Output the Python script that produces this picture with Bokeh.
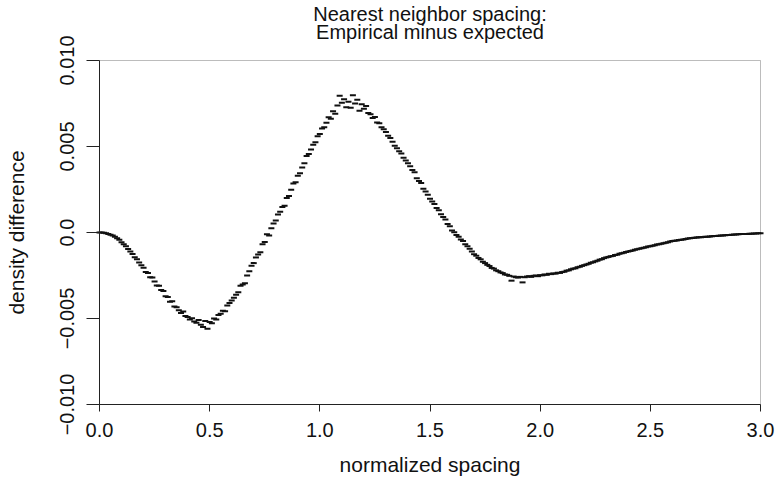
import math
from bokeh.plotting import figure
from bokeh.models import Range1d, FixedTicker, ColumnDataSource, Label, BoxAnnotation
from bokeh.embed import file_html
from bokeh.resources import INLINE

# ---- data ----
spacing_start = 0.0
spacing_step = 0.01
density_diff = [
    0e-4, 0e-4, -0.2e-4, -0.4e-4, -0.8e-4, -1.3e-4, -1.8e-4, -2.4e-4, -3.3e-4, -4.2e-4,
    -5.6e-4, -6.8e-4, -8.0e-4, -9.6e-4, -11.0e-4, -12.5e-4, -14.4e-4, -15.6e-4, -17.5e-4, -19.0e-4,
    -20.5e-4, -23.0e-4, -23.5e-4, -26.0e-4, -26.2e-4, -28.5e-4, -30.8e-4, -31.0e-4, -33.5e-4, -34.0e-4,
    -37.0e-4, -37.5e-4, -40.2e-4, -40.0e-4, -43.0e-4, -43.5e-4, -45.2e-4, -46.8e-4, -46.0e-4, -48.5e-4,
    -49.2e-4, -50.6e-4, -49.8e-4, -51.8e-4, -52.5e-4, -50.8e-4, -53.6e-4, -55.0e-4, -51.5e-4, -56.0e-4,
    -52.0e-4, -52.8e-4, -50.0e-4, -50.6e-4, -48.0e-4, -47.2e-4, -45.5e-4, -45.8e-4, -42.5e-4, -41.0e-4,
    -39.5e-4, -38.0e-4, -36.2e-4, -34.8e-4, -31.0e-4, -30.2e-4, -29.5e-4, -25.0e-4, -22.6e-4, -19.4e-4,
    -17.8e-4, -14.5e-4, -12.8e-4, -11.5e-4, -6.8e-4, -5.5e-4, -1.0e-4, -1.8e-4, 2.5e-4, 5.2e-4,
    7.0e-4, 10.5e-4, 12.0e-4, 14.8e-4, 15.5e-4, 20.0e-4, 21.2e-4, 24.8e-4, 28.5e-4, 29.2e-4,
    33.0e-4, 34.5e-4, 37.8e-4, 40.2e-4, 44.5e-4, 45.6e-4, 48.2e-4, 51.0e-4, 52.4e-4, 56.0e-4,
    57.2e-4, 60.5e-4, 61.2e-4, 63.8e-4, 67.0e-4, 66.2e-4, 70.5e-4, 69.0e-4, 73.8e-4, 79.5e-4,
    75.5e-4, 77.5e-4, 72.8e-4, 76.0e-4, 72.5e-4, 79.8e-4, 75.0e-4, 77.2e-4, 70.8e-4, 74.6e-4,
    72.0e-4, 73.5e-4, 69.5e-4, 68.8e-4, 66.5e-4, 67.2e-4, 64.0e-4, 63.5e-4, 61.2e-4, 60.0e-4,
    58.5e-4, 56.2e-4, 55.0e-4, 52.8e-4, 50.4e-4, 49.0e-4, 47.2e-4, 46.0e-4, 43.5e-4, 41.8e-4,
    40.2e-4, 38.5e-4, 36.4e-4, 35.0e-4, 31.6e-4, 30.0e-4, 28.8e-4, 25.5e-4, 23.9e-4, 22.0e-4,
    19.6e-4, 18.0e-4, 16.5e-4, 14.2e-4, 13.0e-4, 10.6e-4, 9.0e-4, 7.5e-4, 5.0e-4, 3.6e-4,
    1.2e-4, 0.2e-4, -1.5e-4, -2.4e-4, -4.0e-4, -5.0e-4, -6.8e-4, -8.0e-4, -9.4e-4, -11.0e-4,
    -12.6e-4, -13.5e-4, -14.8e-4, -15.6e-4, -17.0e-4, -17.8e-4, -18.8e-4, -19.5e-4, -20.6e-4, -21.0e-4,
    -22.0e-4, -22.5e-4, -23.2e-4, -23.6e-4, -24.4e-4, -24.6e-4, -25.2e-4, -28.0e-4, -25.6e-4, -26.0e-4,
    -26.2e-4, -25.8e-4, -29.0e-4, -26.0e-4, -25.6e-4, -25.4e-4, -25.8e-4, -25.2e-4, -25.0e-4, -25.4e-4,
    -24.8e-4, -24.9e-4, -24.4e-4, -24.6e-4, -24.0e-4, -24.2e-4, -23.8e-4, -23.9e-4, -23.4e-4, -23.5e-4,
    -23.0e-4, -22.8e-4, -22.2e-4, -22.0e-4, -21.4e-4, -21.0e-4, -20.8e-4, -20.2e-4, -19.9e-4, -19.4e-4,
    -19.0e-4, -18.6e-4, -18.2e-4, -17.6e-4, -17.3e-4, -16.8e-4, -16.4e-4, -15.8e-4, -15.5e-4, -14.9e-4,
    -14.5e-4, -14.2e-4, -13.8e-4, -13.6e-4, -13.1e-4, -12.9e-4, -12.4e-4, -12.0e-4, -11.8e-4, -11.3e-4,
    -11.0e-4, -10.8e-4, -10.4e-4, -10.1e-4, -9.8e-4, -9.5e-4, -9.1e-4, -8.8e-4, -8.6e-4, -8.2e-4,
    -8.0e-4, -7.7e-4, -7.4e-4, -7.0e-4, -6.8e-4, -6.5e-4, -6.2e-4, -5.9e-4, -5.6e-4, -5.3e-4,
    -5.0e-4, -4.8e-4, -4.6e-4, -4.3e-4, -4.2e-4, -4.0e-4, -3.8e-4, -3.5e-4, -3.4e-4, -3.2e-4,
    -3.0e-4, -2.9e-4, -2.8e-4, -2.7e-4, -2.6e-4, -2.5e-4, -2.4e-4, -2.3e-4, -2.2e-4, -2.1e-4,
    -2.0e-4, -1.9e-4, -1.8e-4, -1.7e-4, -1.6e-4, -1.5e-4, -1.4e-4, -1.3e-4, -1.2e-4, -1.1e-4,
    -1.0e-4, -0.9e-4, -0.9e-4, -0.8e-4, -0.8e-4, -0.7e-4, -0.7e-4, -0.6e-4, -0.6e-4, -0.5e-4,
    -0.5e-4,
]
normalized_spacing = [round(spacing_start + i * spacing_step, 2) for i in range(len(density_diff))]

x_ticks = [0.0, 0.5, 1.0, 1.5, 2.0, 2.5, 3.0]
x_tick_labels = ["0.0", "0.5", "1.0", "1.5", "2.0", "2.5", "3.0"]
y_ticks = [-0.010, -0.005, 0.0, 0.005, 0.010]
y_tick_labels = ["\u22120.010", "\u22120.005", "0.0", "0.005", "0.010"]

title_lines = ["Nearest neighbor spacing:", "Empirical minus expected"]
x_label = "normalized spacing"
y_label = "density difference"

X_MIN, X_MAX = 0.0, 3.0
Y_MIN, Y_MAX = -0.010, 0.010

# ---- layout: the drawing area spans the whole canvas, the box sits inside it ----
W, H = 775, 476
BOX_L, BOX_R, BOX_T, BOX_B = 99, 760, 60, 404   # box edges in canvas pixels
px_x = (BOX_R - BOX_L) / (X_MAX - X_MIN)
px_y = (BOX_B - BOX_T) / (Y_MAX - Y_MIN)
xr = Range1d(X_MIN - BOX_L / px_x, X_MAX + (W - BOX_R) / px_x)
yr = Range1d(Y_MIN - (H - BOX_B) / px_y, Y_MAX + BOX_T / px_y)

FONT = "Liberation Sans"
INK = "#222222"
TXT = "#111111"

p = figure(
    width=W, height=H, x_range=xr, y_range=yr,
    output_backend="svg", toolbar_location=None,
    min_border_left=0, min_border_right=0, min_border_top=0, min_border_bottom=0,
)
p.background_fill_color = "white"
p.border_fill_color = "white"
p.outline_line_color = None
p.xgrid.visible = False
p.ygrid.visible = False

p.add_layout(BoxAnnotation(left=X_MIN, right=X_MAX, bottom=Y_MIN, top=Y_MAX,
                           fill_alpha=0, line_color=INK, line_width=1, level="underlay"))

src = ColumnDataSource(dict(x=normalized_spacing, y=density_diff))
p.scatter("x", "y", source=src, marker="dash", size=6, line_width=2,
          line_color="#111111")

xa = p.xaxis[0]
xa.ticker = FixedTicker(ticks=x_ticks)
xa.fixed_location = Y_MIN
xa.bounds = (X_MIN, X_MAX)
ya = p.yaxis[0]
ya.ticker = FixedTicker(ticks=y_ticks)
ya.fixed_location = X_MIN
ya.bounds = (Y_MIN, Y_MAX)
for ax, ticks in ((xa, x_ticks), (ya, y_ticks)):
    ax.axis_line_color = INK
    ax.major_tick_line_color = INK
    ax.minor_tick_line_color = None
    ax.major_tick_in = 0
    ax.major_label_overrides = {t: "" for t in ticks}
    ax.major_label_text_font_size = "0px"
    ax.major_label_standoff = 0
xa.major_tick_out = 7
ya.major_tick_out = 13

# tick labels
for t, lab in zip(x_ticks, x_tick_labels):
    p.add_layout(Label(x=t, y=Y_MIN, y_offset=-18, text=lab, text_align="center",
                       text_baseline="top", text_font=FONT, text_font_size="20px",
                       text_color=TXT))
for t, lab in zip(y_ticks, y_tick_labels):
    p.add_layout(Label(x=X_MIN, y=t, x_offset=-26, text=lab, angle=math.pi / 2,
                       text_align="center", text_baseline="bottom", text_font=FONT,
                       text_font_size="20px", text_color=TXT))

# axis titles
p.add_layout(Label(x=(X_MIN + X_MAX) / 2, y=Y_MIN, y_offset=-60, text=x_label,
                   text_align="center", text_baseline="middle", text_font=FONT,
                   text_font_size="21px", text_color=TXT))
p.add_layout(Label(x=X_MIN, y=(Y_MIN + Y_MAX) / 2, x_offset=-83, text=y_label,
                   angle=math.pi / 2, text_align="center", text_baseline="middle",
                   text_font=FONT, text_font_size="21px", text_color=TXT))

# two-line title
for off, line in zip((47, 29), title_lines):
    p.add_layout(Label(x=(X_MIN + X_MAX) / 2, y=Y_MAX, y_offset=off, text=line,
                       text_align="center", text_baseline="middle", text_font=FONT,
                       text_font_size="20px", text_color=TXT))

open("out.html", "w").write(file_html(p, INLINE))
